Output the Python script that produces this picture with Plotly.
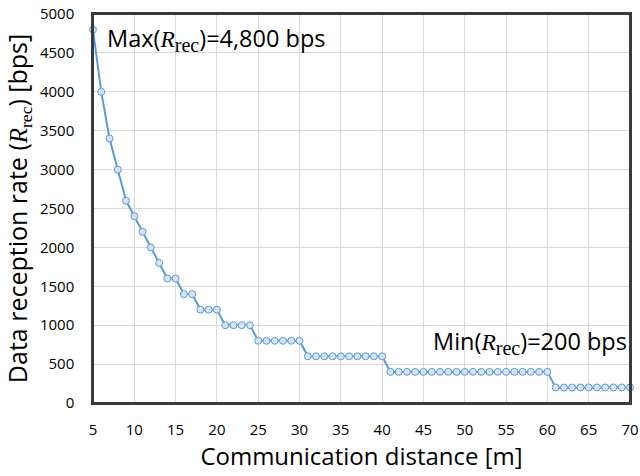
import plotly.graph_objects as go

distance_m = list(range(5, 71))
rate_bps = ([4800, 4000, 3400, 3000, 2600, 2400, 2200, 2000, 1800, 1600, 1600,
             1400, 1400, 1200, 1200, 1200, 1000, 1000, 1000, 1000]
            + [800] * 6 + [600] * 10 + [400] * 20 + [200] * 10)

x_ticks = list(range(5, 71, 5))
y_ticks = list(range(0, 5001, 500))

FONT = "Open Sans"
SERIF = "Liberation Serif"

fig = go.Figure()
fig.add_trace(go.Scatter(
    x=distance_m, y=rate_bps, mode="lines+markers",
    line=dict(color="#5b9bd5", width=2),
    marker=dict(symbol="circle", size=7, color="#d4e4f6",
                line=dict(color="#5b9bd5", width=1)),
    showlegend=False, cliponaxis=False,
))

def rlabel(prefix, suffix):
    return (f"{prefix}(<span style='font-family:{SERIF}'><i>R</i></span>"
            f"<sub><span style='font-family:{SERIF};font-size:20px'>rec</span></sub>){suffix}")

fig.add_annotation(x=0.022, y=4680, xref="paper", yref="y", xanchor="left", yanchor="middle",
                   text=rlabel("Max", "=4,800 bps"), showarrow=False,
                   font=dict(family=FONT, size=23.5, color="black"))
fig.add_annotation(x=0.998, y=790, xref="paper", yref="y", xanchor="right", yanchor="middle",
                   text=rlabel("Min", "=200 bps"), showarrow=False,
                   font=dict(family=FONT, size=23.5, color="black"))

# plot-area frame
fig.add_shape(type="rect", xref="paper", yref="paper", x0=0, y0=0, x1=1, y1=1,
              line=dict(color="#3a3a3a", width=2), layer="above")

fig.update_layout(
    width=640, height=476,
    margin=dict(l=93, r=10, t=14, b=73, autoexpand=False),
    plot_bgcolor="white", paper_bgcolor="white",
    font=dict(family=FONT, size=15, color="black"),
    xaxis=dict(range=[5, 70], tickvals=x_ticks, ticktext=[str(v) for v in x_ticks],
               showgrid=True, gridcolor="#d9d9d9", gridwidth=1,
               showline=True, linecolor="#3a3a3a", linewidth=1.5, mirror=True,
               ticks="outside", ticklen=12, tickcolor="rgba(0,0,0,0)",
               ticklabeloverflow="allow",
               zeroline=False, automargin=False,
               title=dict(text="Communication distance [m]", font=dict(size=24), standoff=6)),
    yaxis=dict(range=[0, 5000], tickvals=y_ticks, ticktext=[str(v) for v in y_ticks],
               showgrid=True, gridcolor="#d9d9d9", gridwidth=1,
               showline=True, linecolor="#3a3a3a", linewidth=1.5, mirror=True,
               ticks="outside", ticklen=14, tickcolor="rgba(0,0,0,0)",
               ticklabeloverflow="allow",
               zeroline=False, automargin=False,
               title=dict(text=("Data reception rate (<span style='font-family:Liberation Serif'><i>R</i>"
                                "<sub>rec</sub></span>) [bps]"),
                          font=dict(size=25), standoff=6)),
)

# Remove the browser's default 8px body margin so the 640x476 figure fills the window.
fig.write_html("out.html", config={"displayModeBar": False},
               post_script="document.body.style.margin='0';")
